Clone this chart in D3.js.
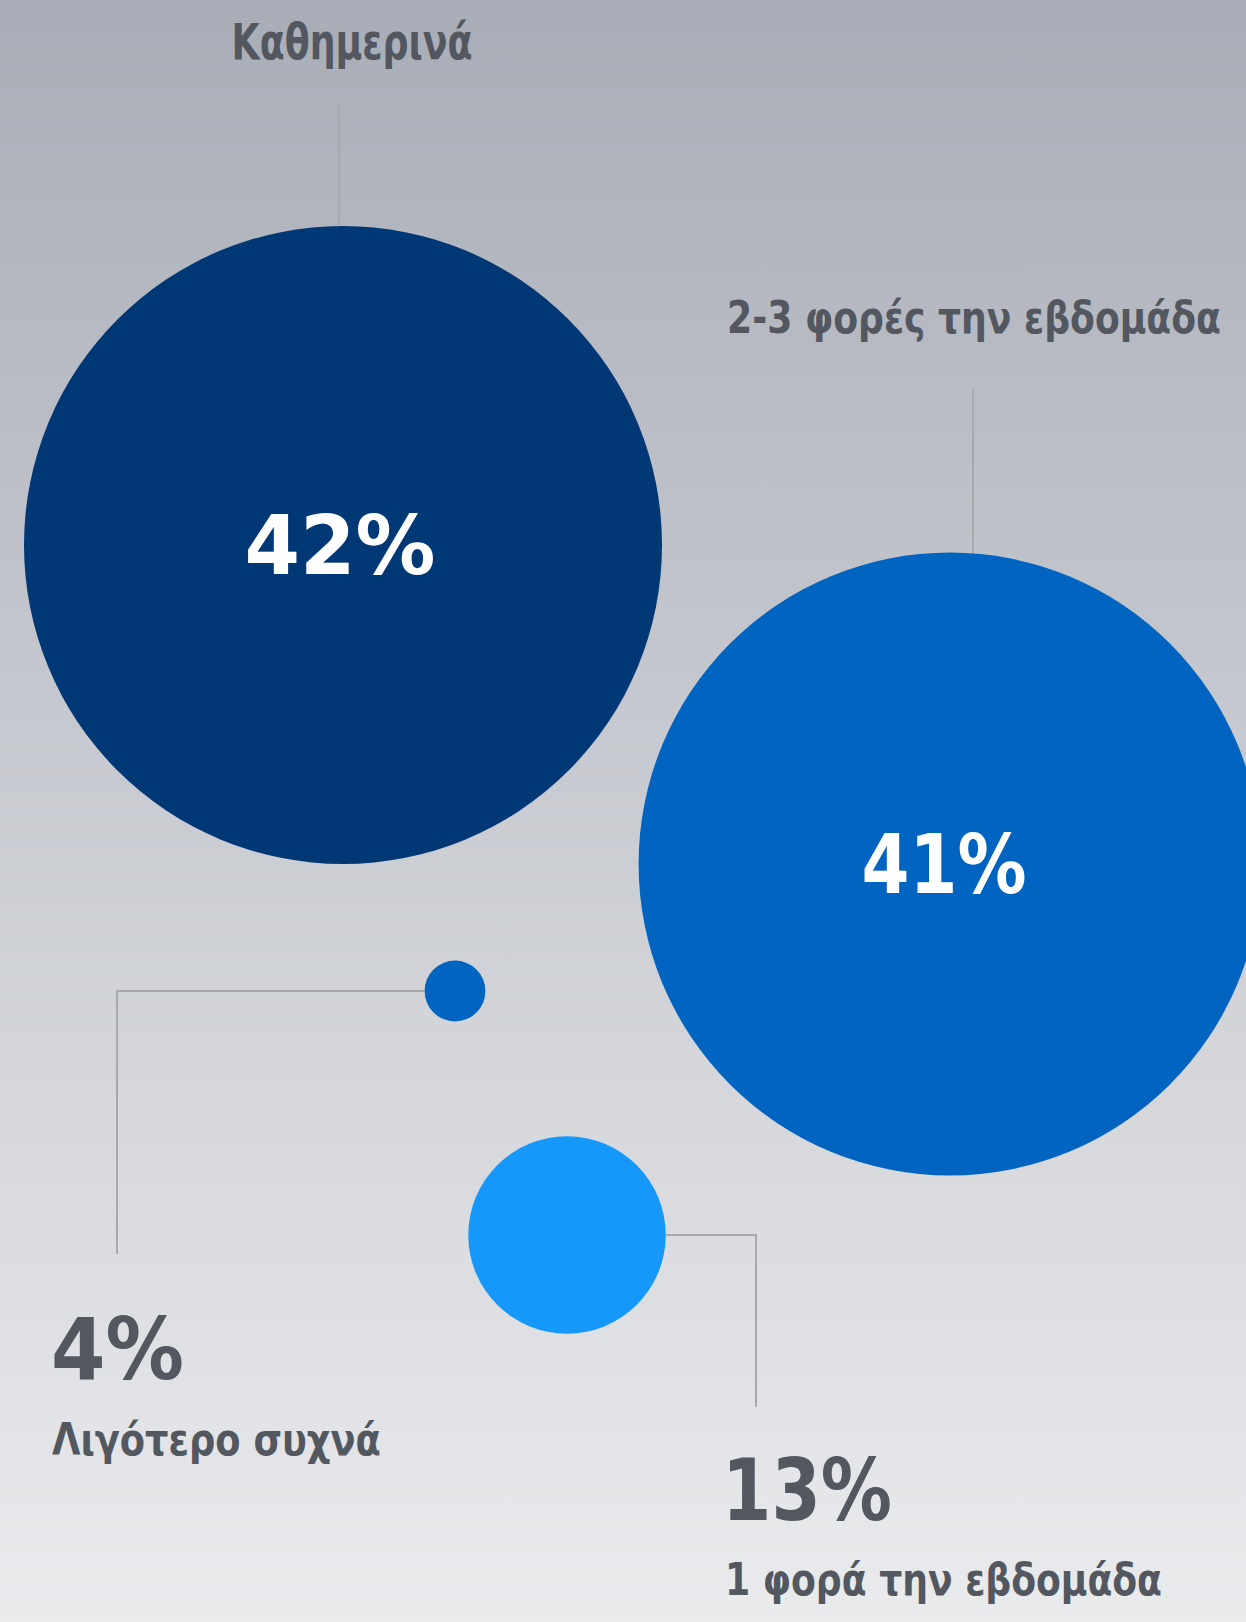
<!DOCTYPE html>
<html>
<head>
<meta charset="utf-8">
<script src="https://cdn.jsdelivr.net/npm/d3@7"></script>
<style>
  html, body { margin: 0; padding: 0; }
  body { width: 1246px; height: 1622px; overflow: hidden; }
</style>
</head>
<body>
<svg id="chart" width="1246" height="1622"></svg>
<script>
// ---- data ----
const categories = ["Καθημερινά", "2-3 φορές την εβδομάδα", "Λιγότερο συχνά", "1 φορά την εβδομάδα"];
const values = [42, 41, 4, 13];
const valueLabels = ["42%", "41%", "4%", "13%"];

// ---- layout (positions / styles, separate from data) ----
const W = 1246, H = 1622;
const centers = [[343, 545], [950, 864], [455, 991], [567, 1235]];
const colors = ["#003876", "#0064c0", "#0064c0", "#1697fa"];
const labelColor = "#525760";
const lineColor = "#a8a9ab";

const svg = d3.select("#chart");
const defs = svg.append("defs");
const grad = defs.append("linearGradient").attr("id", "bg")
  .attr("x1", 0).attr("y1", 0).attr("x2", 0).attr("y2", 1);
grad.append("stop").attr("offset", "0%").attr("stop-color", "#a9adb7");
grad.append("stop").attr("offset", "100%").attr("stop-color", "#eaebed");
svg.append("rect").attr("width", W).attr("height", H).attr("fill", "url(#bg)");

const r = d3.scaleLinear().domain([0, d3.max(values)]).range([0, 319]);

const data = categories.map((c, i) => ({
  cat: c, v: values[i], lab: valueLabels[i],
  cx: centers[i][0], cy: centers[i][1], color: colors[i]
}));

// connectors
const lines = svg.append("g").attr("fill", "none").attr("stroke", lineColor).attr("stroke-width", 2);
const d0 = data[0], d1 = data[1], d2 = data[2], d3_ = data[3];
lines.append("path").attr("d", `M${d0.cx - 4},103V${d0.cy - r(d0.v) + 2}`);
lines.append("path").attr("d", `M973,389V${d1.cy - r(d1.v) + 4}`);
lines.append("path").attr("d", `M${d2.cx - r(d2.v)},${d2.cy}H117V1254`);
lines.append("path").attr("d", `M${d3_.cx + r(d3_.v)},${d3_.cy}H756V1407`);

// bubbles
svg.append("g").selectAll("circle").data(data).join("circle")
  .attr("cx", d => d.cx).attr("cy", d => d.cy)
  .attr("r", d => r(d.v)).attr("fill", d => d.color);

// helper: text drawn at (x,y), horizontally condensed to a target width
function fitText(x, y, anchor, txt, family, size, color, width) {
  const g = svg.append("g");
  const t = g.append("text").attr("x", 0).attr("y", 0).attr("text-anchor", anchor)
    .attr("font-family", family).attr("font-weight", 700)
    .attr("font-size", size).attr("fill", color).text(txt);
  const w = t.node().getComputedTextLength();
  const k = w > 0 ? width / w : 1;
  g.attr("transform", `translate(${x},${y}) scale(${k},1)`);
}

const pctFont = "'DejaVu Sans', sans-serif";
const catFont = "'DejaVu Sans Condensed', 'DejaVu Sans', sans-serif";

// value labels inside big bubbles
fitText(d0.cx - 3, d0.cy + 29, "middle", d0.lab, pctFont, 82, "#ffffff", 191);
fitText(d1.cx - 6, d1.cy + 29, "middle", d1.lab, pctFont, 82, "#ffffff", 165);

// category labels
fitText(352, 59, "middle", categories[0], catFont, 50, labelColor, 241);
fitText(727, 333, "start", categories[1], catFont, 45, labelColor, 494);
fitText(52, 1455, "start", categories[2], catFont, 44, labelColor, 329);
fitText(725, 1595, "start", categories[3], catFont, 45, labelColor, 437);

// outside value labels
fitText(51, 1379, "start", valueLabels[2], pctFont, 86, labelColor, 133);
fitText(722, 1520, "start", valueLabels[3], pctFont, 86, labelColor, 170);
</script>
</body>
</html>
